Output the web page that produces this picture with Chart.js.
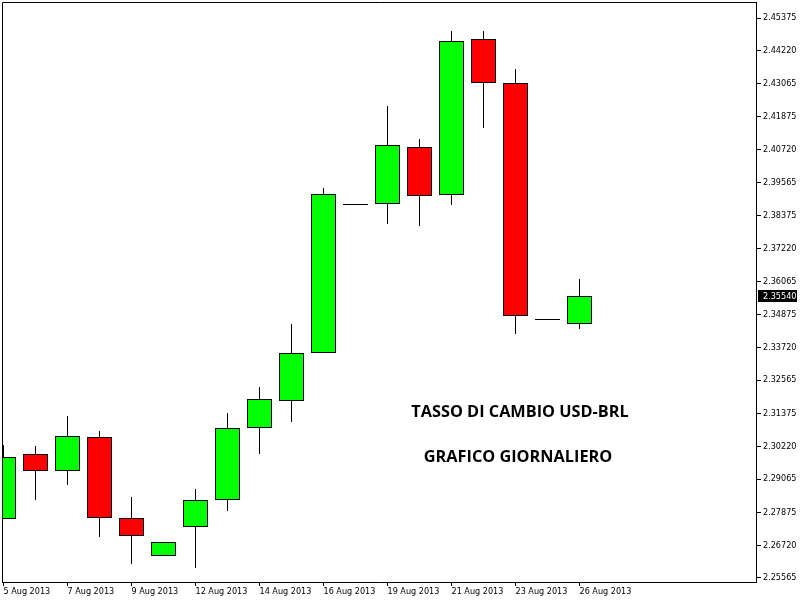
<!DOCTYPE html>
<html><head><meta charset="utf-8">
<script src="https://cdn.jsdelivr.net/npm/chart.js@4.4.1/dist/chart.umd.min.js"></script>
<style>html,body{margin:0;padding:0;background:#fff}canvas{display:block}</style>
</head><body>
<canvas id="c" width="800" height="600"></canvas>
<script>
const dates = ["5 Aug 2013","6 Aug 2013","7 Aug 2013","8 Aug 2013","9 Aug 2013","11 Aug 2013","12 Aug 2013","13 Aug 2013","14 Aug 2013","15 Aug 2013","16 Aug 2013","18 Aug 2013","19 Aug 2013","20 Aug 2013","21 Aug 2013","22 Aug 2013","23 Aug 2013","25 Aug 2013","26 Aug 2013"];
const opens  = [2.27652,2.29951,2.29350,2.30553,2.27687,2.26343,2.27369,2.28324,2.30871,2.31826,2.33524,2.38760,2.38795,2.40812,2.39114,2.44632,2.43076,2.34692,2.34550];
const highs  = [2.30270,2.30234,2.31296,2.30765,2.28430,2.26838,2.28713,2.31402,2.32322,2.34550,2.39361,2.38760,2.42262,2.41095,2.44915,2.44915,2.43571,2.34692,2.36142];
const lows   = [2.27652,2.28324,2.28855,2.27015,2.26060,2.26343,2.25919,2.27935,2.29951,2.31083,2.33524,2.38760,2.38088,2.38017,2.38760,2.41484,2.34196,2.34692,2.34373];
const closes = [2.29845,2.29350,2.30588,2.27687,2.27051,2.26838,2.28324,2.30871,2.31897,2.33524,2.39149,2.38760,2.40882,2.39078,2.44561,2.43076,2.34833,2.34692,2.35540];
const yTickLabels = ["2.45375","2.44220","2.43065","2.41875","2.40720","2.39565","2.38375","2.37220","2.36065","2.34875","2.33720","2.32565","2.31375","2.30220","2.29065","2.27875","2.26720","2.25565"];
const titleLines = ["TASSO DI CAMBIO USD-BRL","GRAFICO GIORNALIERO"];

const UP = '#00ff00', DOWN = '#ff0000';
const FONT = '"DejaVu Sans Condensed", "Liberation Sans", sans-serif';

const bodyPts = [], bodyCols = [], dojiPts = [], wickPts = [];
dates.forEach((d, i) => {
  wickPts.push({x: i, y: [lows[i], highs[i]]});
  if (opens[i] === closes[i]) {
    dojiPts.push({x: i, y: [opens[i], closes[i]]});
  } else {
    bodyPts.push({x: i, y: [opens[i], closes[i]]});
    bodyCols.push(closes[i] > opens[i] ? UP : DOWN);
  }
});

const overlay = {
  id: 'overlay',
  afterDraw(chart) {
    const {ctx, chartArea: a} = chart;
    const y = chart.scales.y;
    ctx.save();
    ctx.strokeStyle = '#000'; ctx.lineWidth = 1;
    ctx.beginPath();
    ctx.moveTo(a.left + 0.5, a.bottom);
    ctx.lineTo(a.left + 0.5, a.top + 0.5);
    ctx.lineTo(a.right, a.top + 0.5);
    ctx.stroke();
    const last = closes[closes.length - 1];
    const py = Math.round(y.getPixelForValue(last));
    ctx.fillStyle = '#000';
    ctx.fillRect(a.right + 2, py - 6, 39, 12);
    ctx.fillStyle = '#fff';
    ctx.font = '9px ' + FONT;
    ctx.textBaseline = 'middle'; ctx.textAlign = 'left';
    ctx.fillText(last.toFixed(5), a.right + 7, py + 0.5);
    ctx.fillStyle = '#000';
    ctx.font = 'bold 16.3px "Open Sans"';
    ctx.textAlign = 'center';
    ctx.fillText(titleLines[0], 520, 412);
    ctx.fillText(titleLines[1], 518, 457);
    ctx.restore();
  }
};

new Chart(document.getElementById('c'), {
  type: 'bar',
  data: {
    datasets: [
      {data: bodyPts, backgroundColor: bodyCols, borderColor: '#000', borderWidth: 1, borderSkipped: false, barThickness: 25, grouped: false, inflateAmount: 0, clip: 0},
      {data: dojiPts, backgroundColor: '#000', borderWidth: 0, barThickness: 25, minBarLength: 1, grouped: false, inflateAmount: 0, clip: 0},
      {data: wickPts, backgroundColor: '#000', borderWidth: 0, barThickness: 1, grouped: false, inflateAmount: 0, clip: 0}
    ]
  },
  options: {
    responsive: false,
    devicePixelRatio: 1,
    animation: false,
    events: [],
    layout: {padding: {left: 2, top: 2, right: 0, bottom: 0}},
    plugins: {legend: {display: false}, tooltip: {enabled: false}},
    scales: {
      x: {
        type: 'linear', min: -0.046875, max: 23.515625, offset: false,
        grid: {drawOnChartArea: false, drawTicks: true, tickLength: 4, tickColor: '#000', offset: false},
        border: {display: true, color: '#000', width: 1},
        ticks: {autoSkip: false, maxRotation: 0, align: 'start', padding: 0, color: '#000', font: {family: FONT, size: 9}, callback: (v) => dates[v]},
        afterBuildTicks: s => { s.ticks = dates.map((d, i) => i).filter(i => i % 2 === 0).map(v => ({value: v})); },
        afterFit: s => { s.height = 18; s.paddingLeft = 0; s.paddingRight = 0; }
      },
      y: {
        type: 'linear', position: 'right', min: 2.254235, max: 2.45941, beginAtZero: false,
        grid: {drawOnChartArea: false, drawTicks: true, tickLength: 5, tickColor: '#000'},
        border: {display: true, color: '#000', width: 1},
        ticks: {autoSkip: false, padding: 2, color: '#000', font: {family: FONT, size: 9}, callback: (v, i) => yTickLabels[i]},
        afterBuildTicks: s => { s.ticks = yTickLabels.map(t => ({value: parseFloat(t)})); },
        afterFit: s => { s.width = 44; s.paddingTop = 0; s.paddingBottom = 0; }
      }
    }
  },
  plugins: [overlay]
});
</script>
</body></html>
